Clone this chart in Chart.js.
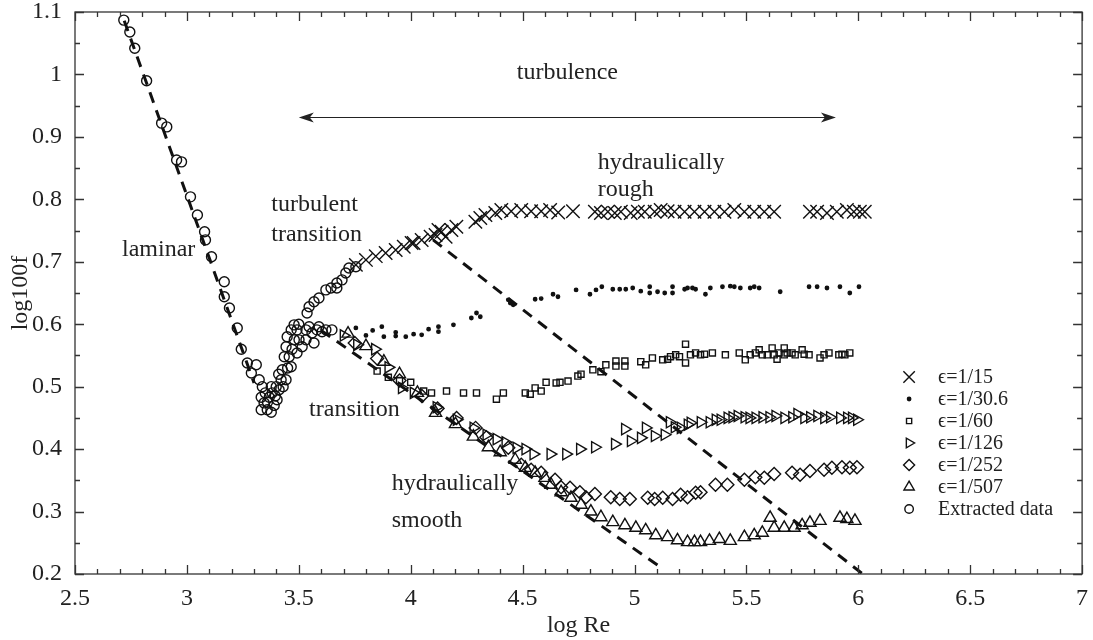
<!DOCTYPE html>
<html>
<head>
<meta charset="utf-8">
<title>log100f vs log Re</title>
<script src="https://cdn.jsdelivr.net/npm/chart.js@4.4.1/dist/chart.umd.min.js"></script>
<style>
  html, body { margin: 0; padding: 0; background: #fff; }
  #wrap { width: 1093px; height: 640px; position: relative; }
</style>
</head>
<body>
<div id="wrap"><canvas id="frictionChart"></canvas></div>
<script>
// Données : [log Re, log100f]
const eps15 = [[3.755,0.695],[3.80,0.703],[3.844,0.709],[3.888,0.714],[3.933,0.719],[3.969,0.724],[4.004,0.730],[4.013,0.730],[4.049,0.735],[4.089,0.740],[4.111,0.743],[4.124,0.751],[4.138,0.748],[4.156,0.740],[4.182,0.751],[4.204,0.756],[4.289,0.764],[4.311,0.770],[4.334,0.775],[4.378,0.778],[4.405,0.783],[4.449,0.781],[4.494,0.783],[4.538,0.781],[4.583,0.781],[4.623,0.783],[4.659,0.779],[4.725,0.781],[4.823,0.780],[4.85,0.778],[4.881,0.780],[4.912,0.778],[4.939,0.780],[4.983,0.778],[5.015,0.780],[5.046,0.780],[5.09,0.780],[5.117,0.783],[5.148,0.781],[5.179,0.780],[5.224,0.780],[5.268,0.780],[5.313,0.780],[5.357,0.780],[5.402,0.780],[5.446,0.783],[5.491,0.780],[5.535,0.780],[5.58,0.780],[5.624,0.780],[5.784,0.780],[5.816,0.780],[5.86,0.778],[5.904,0.780],[5.949,0.783],[5.98,0.780],[6.007,0.780],[6.029,0.780]];

const eps30 = [[3.755,0.594],[3.80,0.582],[3.83,0.590],[3.871,0.596],[3.880,0.580],[3.933,0.581],[3.933,0.587],[3.978,0.580],[4.013,0.584],[4.049,0.583],[4.080,0.592],[4.124,0.596],[4.124,0.588],[4.191,0.599],[4.271,0.610],[4.294,0.618],[4.311,0.612],[4.436,0.639],[4.445,0.634],[4.458,0.631],[4.556,0.640],[4.583,0.641],[4.636,0.648],[4.658,0.644],[4.739,0.655],[4.801,0.648],[4.828,0.655],[4.854,0.660],[4.903,0.656],[4.934,0.656],[4.961,0.656],[4.992,0.658],[5.028,0.653],[5.068,0.660],[5.068,0.650],[5.103,0.652],[5.135,0.650],[5.170,0.660],[5.170,0.650],[5.224,0.656],[5.237,0.658],[5.259,0.658],[5.273,0.656],[5.317,0.648],[5.339,0.658],[5.393,0.660],[5.428,0.661],[5.446,0.660],[5.473,0.658],[5.517,0.658],[5.535,0.660],[5.557,0.658],[5.651,0.652],[5.780,0.660],[5.816,0.660],[5.860,0.658],[5.918,0.660],[5.962,0.650],[6.003,0.660]];

const eps60 = [[3.85,0.525],[3.90,0.515],[3.95,0.51],[4.0,0.507],[4.058,0.493],[4.093,0.490],[4.16,0.493],[4.236,0.490],[4.294,0.490],[4.383,0.480],[4.414,0.490],[4.512,0.490],[4.534,0.488],[4.556,0.498],[4.583,0.493],[4.605,0.507],[4.650,0.506],[4.667,0.507],[4.703,0.509],[4.747,0.517],[4.761,0.520],[4.814,0.527],[4.850,0.524],[4.872,0.535],[4.917,0.541],[4.957,0.541],[4.917,0.533],[4.957,0.533],[5.028,0.540],[5.05,0.535],[5.08,0.546],[5.126,0.543],[5.148,0.544],[5.161,0.548],[5.184,0.551],[5.201,0.548],[5.228,0.568],[5.228,0.538],[5.25,0.551],[5.273,0.554],[5.295,0.551],[5.313,0.552],[5.348,0.554],[5.406,0.551],[5.468,0.554],[5.495,0.543],[5.517,0.551],[5.54,0.554],[5.557,0.559],[5.571,0.551],[5.593,0.551],[5.615,0.562],[5.624,0.551],[5.637,0.544],[5.646,0.554],[5.669,0.562],[5.669,0.551],[5.682,0.554],[5.704,0.554],[5.718,0.551],[5.749,0.559],[5.758,0.552],[5.78,0.551],[5.829,0.546],[5.847,0.551],[5.869,0.554],[5.913,0.551],[5.927,0.552],[5.94,0.551],[5.962,0.554]];

const eps126 = [[3.70,0.582],[3.76,0.567],[3.84,0.560],[3.90,0.531],[3.96,0.498],[4.013,0.490],[4.115,0.467],[4.205,0.447],[4.28,0.434],[4.338,0.423],[4.383,0.416],[4.423,0.411],[4.472,0.402],[4.512,0.400],[4.548,0.392],[4.624,0.392],[4.694,0.392],[4.756,0.400],[4.823,0.403],[4.912,0.408],[4.957,0.432],[4.983,0.413],[5.028,0.418],[5.05,0.434],[5.09,0.421],[5.134,0.423],[5.157,0.443],[5.179,0.435],[5.206,0.434],[5.237,0.439],[5.25,0.442],[5.295,0.443],[5.335,0.443],[5.362,0.447],[5.384,0.447],[5.415,0.450],[5.437,0.451],[5.46,0.453],[5.491,0.451],[5.513,0.450],[5.54,0.450],[5.571,0.451],[5.602,0.451],[5.629,0.453],[5.669,0.450],[5.704,0.451],[5.727,0.456],[5.758,0.450],[5.784,0.451],[5.816,0.453],[5.847,0.450],[5.873,0.451],[5.918,0.450],[5.949,0.450],[5.971,0.450],[5.994,0.447]];

const eps252 = [[3.75,0.57],[3.85,0.545],[3.95,0.51],[4.05,0.485],[4.12,0.465],[4.205,0.45],[4.29,0.434],[4.338,0.419],[4.436,0.402],[4.494,0.375],[4.538,0.367],[4.583,0.362],[4.645,0.351],[4.672,0.339],[4.712,0.338],[4.756,0.331],[4.783,0.323],[4.823,0.328],[4.894,0.323],[4.934,0.320],[4.979,0.320],[5.059,0.322],[5.09,0.320],[5.126,0.322],[5.17,0.320],[5.206,0.327],[5.237,0.323],[5.273,0.330],[5.295,0.331],[5.362,0.343],[5.415,0.343],[5.491,0.351],[5.54,0.355],[5.58,0.354],[5.624,0.360],[5.704,0.362],[5.74,0.359],[5.784,0.365],[5.847,0.367],[5.882,0.370],[5.927,0.371],[5.962,0.370],[5.994,0.371]];

const eps507 = [[3.72,0.585],[3.80,0.565],[3.88,0.54],[3.95,0.52],[4.03,0.49],[4.111,0.458],[4.2,0.44],[4.28,0.42],[4.347,0.403],[4.40,0.395],[4.467,0.383],[4.512,0.370],[4.556,0.362],[4.60,0.354],[4.627,0.343],[4.672,0.331],[4.716,0.322],[4.761,0.311],[4.805,0.300],[4.85,0.291],[4.903,0.283],[4.957,0.278],[5.006,0.274],[5.05,0.270],[5.095,0.262],[5.148,0.259],[5.192,0.254],[5.237,0.251],[5.268,0.251],[5.295,0.251],[5.335,0.253],[5.379,0.256],[5.428,0.253],[5.491,0.259],[5.535,0.262],[5.571,0.266],[5.606,0.290],[5.624,0.274],[5.669,0.274],[5.713,0.274],[5.749,0.278],[5.784,0.282],[5.829,0.285],[5.918,0.290],[5.949,0.288],[5.985,0.285]];

const extracted = [[2.718,1.087],[2.745,1.068],[2.767,1.042],[2.82,0.99],[2.887,0.922],[2.91,0.916],[2.954,0.863],[2.976,0.86],[3.016,0.804],[3.047,0.775],[3.079,0.748],[3.083,0.735],[3.11,0.708],[3.167,0.668],[3.167,0.644],[3.19,0.626],[3.225,0.594],[3.243,0.56],[3.27,0.538],[3.31,0.535],[3.288,0.522],
  [3.323,0.511],[3.337,0.5],[3.332,0.483],[3.345,0.474],[3.359,0.463],[3.332,0.463],[3.377,0.5],[3.368,0.483],[3.381,0.49],[3.377,0.459],[3.399,0.5],[3.412,0.495],[3.403,0.479],[3.421,0.511],[3.426,0.527],[3.435,0.548],[3.443,0.564],[3.448,0.58],[3.466,0.591],[3.479,0.599],[3.492,0.591],[3.501,0.575],[3.515,0.564],[3.532,0.575],[3.532,0.591],[3.546,0.596],[3.559,0.586],[3.568,0.57],[3.581,0.591],[3.59,0.596],[3.604,0.588],[3.621,0.591],[3.648,0.591],[3.492,0.554],[3.466,0.532],[3.443,0.511],[3.457,0.548],
  [3.35,0.49],[3.36,0.475],[3.39,0.47],[3.41,0.52],[3.45,0.53],[3.47,0.56],[3.48,0.575],[3.50,0.60],[3.43,0.50],[3.395,0.485],
  [3.537,0.618],[3.546,0.628],[3.568,0.636],[3.59,0.642],[3.621,0.655],[3.644,0.658],[3.67,0.658],[3.67,0.666],[3.693,0.671],[3.71,0.682],[3.724,0.69],[3.755,0.692]];

// Droites de référence en pointillés
const laminarLine = [[2.72,1.086],[3.30,0.506]];
const smoothLine = [[3.60,0.59],[5.12,0.21]];
const roughLine = [[4.10,0.735],[6.02,0.20]];

// Textes placés dans le graphique (coordonnées en données)
const notes = [
  { text: 'laminar', x: 2.71, y: 0.72 },
  { text: 'turbulent', x: 3.377, y: 0.791 },
  { text: 'transition', x: 3.377, y: 0.743 },
  { text: 'hydraulically', x: 4.836, y: 0.858 },
  { text: 'rough', x: 4.836, y: 0.815 },
  { text: 'transition', x: 3.546, y: 0.463 },
  { text: 'hydraulically', x: 3.915, y: 0.344 },
  { text: 'smooth', x: 3.915, y: 0.286 }
];
const turbulenceArrow = { from: 3.50, to: 5.90, y: 0.932, label: 'turbulence', labelY: 1.002 };

const FONT = "'Liberation Serif', 'Times New Roman', serif";
const INK = '#222';

function toPoints(arr) {
    return arr.map(p => ({ x: p[0], y: p[1] }));
}

function markerSet(label, data, style, radius, rotation) {
    return {
        label: label,
        data: toPoints(data),
        pointStyle: style,
        pointRadius: radius,
        pointRotation: rotation || 0,
        borderColor: '#111',
        backgroundColor: style === 'circle' && radius < 3 ? '#111' : 'rgba(0,0,0,0)',
        pointBorderWidth: 1.4,
        showLine: false
    };
}

function guideSet(data) {
    return {
        label: '',
        isGuide: true,
        data: toPoints(data),
        showLine: true,
        borderColor: '#111',
        borderWidth: 3,
        borderDash: [11, 8],
        pointRadius: 0,
        fill: false
    };
}

// Cadre + graduations vers l'intérieur
const framePlugin = {
    id: 'frame',
    afterDraw(chart) {
        const { ctx, chartArea: a, scales } = chart;
        ctx.save();
        ctx.strokeStyle = '#333';
        ctx.lineWidth = 1.3;
        ctx.strokeRect(a.left, a.top, a.right - a.left, a.bottom - a.top);
        ctx.beginPath();
        scales.x.ticks.forEach(t => {
            const px = Math.round(scales.x.getPixelForValue(t.value)) + 0.5;
            const len = Math.round(t.value * 10) % 5 === 0 ? 9 : 5;
            ctx.moveTo(px, a.bottom); ctx.lineTo(px, a.bottom - len);
            ctx.moveTo(px, a.top); ctx.lineTo(px, a.top + len);
        });
        scales.y.ticks.forEach(t => {
            const py = Math.round(scales.y.getPixelForValue(t.value)) + 0.5;
            const len = Math.round(t.value * 100) % 10 === 0 ? 9 : 5;
            ctx.moveTo(a.left, py); ctx.lineTo(a.left + len, py);
            ctx.moveTo(a.right, py); ctx.lineTo(a.right - len, py);
        });
        ctx.stroke();
        ctx.restore();
    }
};

// Annotations : textes et flèche "turbulence"
const notesPlugin = {
    id: 'notes',
    afterDatasetsDraw(chart) {
        const { ctx, scales } = chart;
        ctx.save();
        ctx.fillStyle = INK;
        ctx.font = '24px ' + FONT;
        ctx.textBaseline = 'middle';
        ctx.textAlign = 'left';
        notes.forEach(n => {
            ctx.fillText(n.text, scales.x.getPixelForValue(n.x), scales.y.getPixelForValue(n.y));
        });

        const x1 = scales.x.getPixelForValue(turbulenceArrow.from);
        const x2 = scales.x.getPixelForValue(turbulenceArrow.to);
        const y = Math.round(scales.y.getPixelForValue(turbulenceArrow.y)) + 0.5;
        ctx.strokeStyle = INK;
        ctx.lineWidth = 1.2;
        ctx.beginPath();
        ctx.moveTo(x1 + 4, y); ctx.lineTo(x2 - 4, y);
        ctx.stroke();
        [[x1, 1], [x2, -1]].forEach(([x, dir]) => {
            ctx.beginPath();
            ctx.moveTo(x, y);
            ctx.lineTo(x + dir * 15, y - 5);
            ctx.lineTo(x + dir * 11, y);
            ctx.lineTo(x + dir * 15, y + 5);
            ctx.closePath();
            ctx.fill();
        });
        ctx.textAlign = 'center';
        ctx.fillText(turbulenceArrow.label, (x1 + x2) / 2, scales.y.getPixelForValue(turbulenceArrow.labelY));
        ctx.restore();
    }
};

// Légende dans la zone du graphique, en bas à droite
const legendPlugin = {
    id: 'insideLegend',
    afterDatasetsDraw(chart) {
        const { ctx, chartArea: a } = chart;
        const items = chart.data.datasets.filter(ds => !ds.isGuide);
        const markX = a.right - 173;
        const textX = a.right - 144;
        let rowY = a.bottom - 197;
        ctx.save();
        ctx.font = '20px ' + FONT;
        ctx.textBaseline = 'middle';
        ctx.textAlign = 'left';
        items.forEach(ds => {
            ctx.strokeStyle = ds.borderColor;
            ctx.fillStyle = ds.backgroundColor;
            ctx.lineWidth = ds.pointBorderWidth;
            Chart.helpers.drawPoint(ctx, {
                pointStyle: ds.pointStyle,
                radius: ds.pointRadius > 3 ? ds.pointRadius * 0.85 : ds.pointRadius,
                rotation: ds.pointRotation,
                borderWidth: ds.pointBorderWidth
            }, markX, rowY);
            ctx.fillStyle = INK;
            ctx.fillText(ds.label, textX, rowY + 1);
            rowY += 22;
        });
        ctx.restore();
    }
};

document.addEventListener('DOMContentLoaded', function() {
    const ctx = document.getElementById('frictionChart');
    new Chart(ctx, {
        type: 'scatter',
        data: {
            datasets: [
                markerSet('\u03f5=1/15', eps15, 'crossRot', 9.5),
                markerSet('\u03f5=1/30.6', eps30, 'circle', 1.7),
                markerSet('\u03f5=1/60', eps60, 'rect', 4.3),
                markerSet('\u03f5=1/126', eps126, 'triangle', 6.5, 90),
                markerSet('\u03f5=1/252', eps252, 'rectRot', 6.5),
                markerSet('\u03f5=1/507', eps507, 'triangle', 7),
                markerSet('Extracted data', extracted, 'circle', 5),
                guideSet(laminarLine),
                guideSet(smoothLine),
                guideSet(roughLine)
            ]
        },
        options: {
            responsive: true,
            maintainAspectRatio: false,
            animation: false,
            events: [],
            layout: { padding: { top: 12, right: 7, left: 0, bottom: 0 } },
            plugins: {
                legend: { display: false },
                tooltip: { enabled: false }
            },
            scales: {
                x: {
                    type: 'linear',
                    min: 2.5,
                    max: 7,
                    grid: { display: false, drawTicks: false },
                    border: { display: false },
                    afterFit: s => {
                        s.height = 66;
                        s.paddingLeft = 0;
                        s.paddingRight = 0;
                    },
                    title: {
                        display: true,
                        text: 'log Re',
                        color: INK,
                        font: { family: FONT, size: 24 },
                        padding: { top: 0, bottom: 0 }
                    },
                    ticks: {
                        stepSize: 0.1,
                        autoSkip: false,
                        maxRotation: 0,
                        padding: 10,
                        color: INK,
                        font: { family: FONT, size: 24 },
                        callback: v => Math.round(v * 10) % 5 === 0 ? String(Math.round(v * 10) / 10) : ''
                    }
                },
                y: {
                    type: 'linear',
                    min: 0.2,
                    max: 1.1,
                    grid: { display: false, drawTicks: false },
                    border: { display: false },
                    afterFit: s => {
                        s.width = 75;
                        s.paddingTop = 0;
                        s.paddingBottom = 0;
                    },
                    title: {
                        display: true,
                        text: 'log100f',
                        color: INK,
                        font: { family: FONT, size: 24 },
                        padding: { top: 6, bottom: 0 }
                    },
                    ticks: {
                        stepSize: 0.05,
                        autoSkip: false,
                        padding: 13,
                        color: INK,
                        font: { family: FONT, size: 24 },
                        callback: v => Math.round(v * 100) % 10 === 0 ? String(Math.round(v * 10) / 10) : ''
                    }
                }
            }
        },
        plugins: [framePlugin, notesPlugin, legendPlugin]
    });
});
</script>
</body>
</html>
